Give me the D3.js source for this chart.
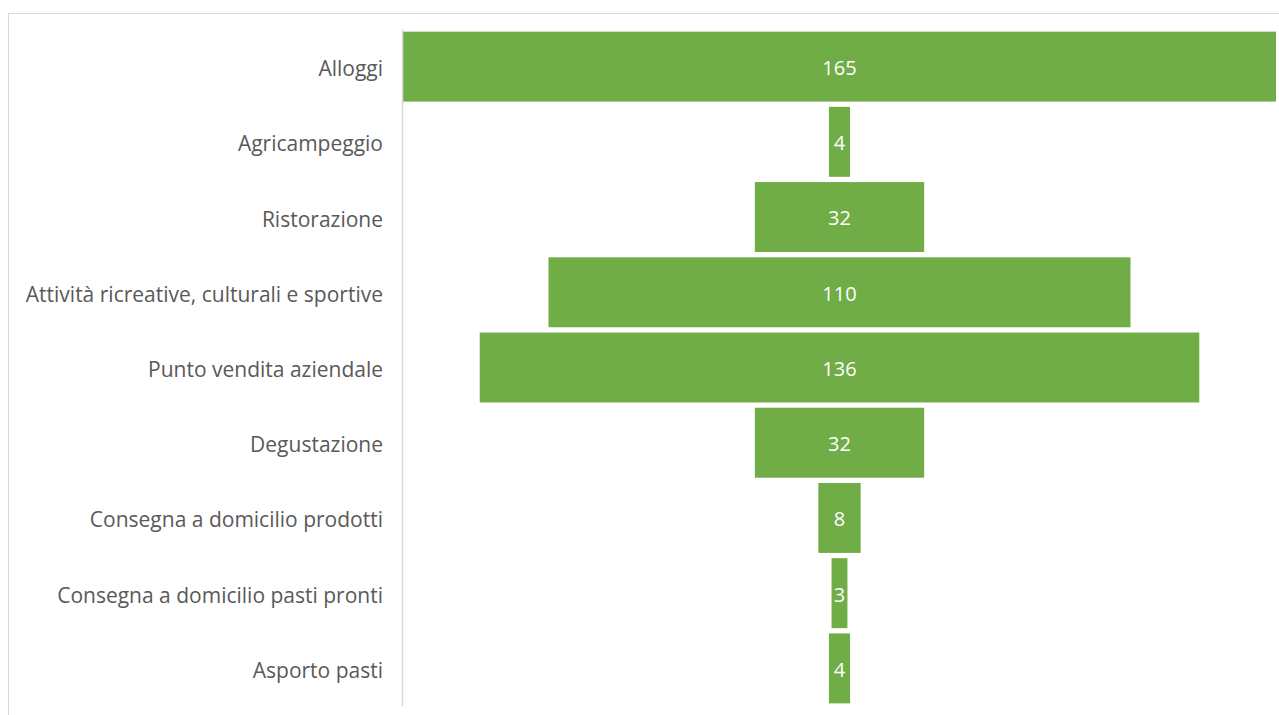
<!DOCTYPE html>
<html>
<head>
<meta charset="utf-8">
<script src="https://cdn.jsdelivr.net/npm/d3@7"></script>
<style>
  html, body { margin: 0; padding: 0; background: #fff; }
  svg { display: block; }
</style>
</head>
<body>
<svg id="chart" width="1279" height="715"></svg>
<script>
const categories = [
  "Alloggi",
  "Agricampeggio",
  "Ristorazione",
  "Attività ricreative, culturali e sportive",
  "Punto vendita aziendale",
  "Degustazione",
  "Consegna a domicilio prodotti",
  "Consegna a domicilio pasti pronti",
  "Asporto pasti"
];
const values = [165, 4, 32, 110, 136, 32, 8, 3, 4];

const svg = d3.select("#chart");
const font = "'Open Sans', sans-serif";

// chart frame
svg.append("rect")
  .attr("x", 8.5).attr("y", 13.5)
  .attr("width", 1300).attr("height", 800)
  .attr("fill", "#fff").attr("stroke", "#d9d9d9").attr("stroke-width", 1);

const plotLeft = 403, plotRight = 1276, plotTop = 29, plotBottom = 706;
const center = (plotLeft + plotRight) / 2;

const y = d3.scaleBand().domain(categories).range([plotTop, plotBottom]).paddingInner(0.07).paddingOuter(0.035);
const w = d3.scaleLinear().domain([0, d3.max(values)]).range([0, plotRight - plotLeft]);

const data = categories.map((c, i) => ({ c, v: values[i] }));

svg.append("g").selectAll("rect").data(data).join("rect")
  .attr("x", d => center - w(d.v) / 2)
  .attr("y", d => y(d.c))
  .attr("width", d => w(d.v))
  .attr("height", y.bandwidth())
  .attr("fill", "#70ad47");

// axis
const axis = svg.append("g").attr("transform", `translate(${plotLeft - 1},0)`)
  .call(d3.axisLeft(y).tickSize(0).tickPadding(19));
axis.select(".domain").attr("stroke", "#d9d9d9").attr("stroke-width", 1.5);
axis.selectAll("text").attr("font-family", font).attr("font-size", 21).attr("fill", "#595959")
  .attr("dy", "0.45em");

svg.append("g").selectAll("text").data(data).join("text")
  .attr("x", center)
  .attr("y", d => y(d.c) + y.bandwidth() / 2)
  .attr("dy", "0.42em")
  .attr("text-anchor", "middle")
  .attr("font-family", font).attr("font-size", 20)
  .attr("fill", "#fff")
  .text(d => d.v);
</script>
</body>
</html>
